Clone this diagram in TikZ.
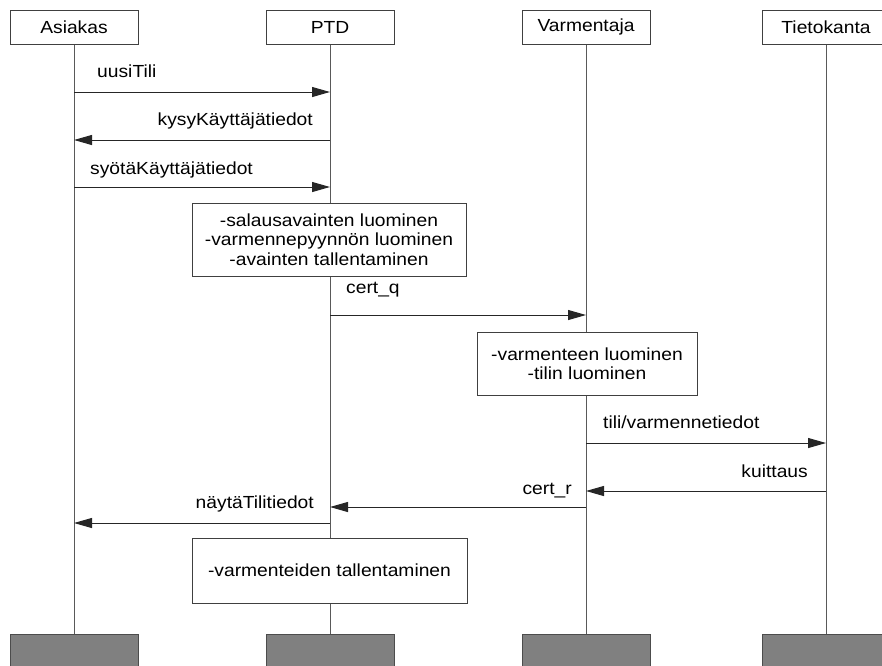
\documentclass[tikz,border=0pt]{standalone}
\usepackage{fontspec}
\setmainfont{Liberation Sans}[FakeStretch=1.1]
\usetikzlibrary{arrows.meta}
\begin{document}
\begin{tikzpicture}[x=1pt,y=-1pt,
  every node/.style={font=\fontsize{17.5}{19.5}\selectfont, inner sep=0pt},
  actor/.style={draw=black!75, fill=white, line width=1pt, minimum width=128pt, minimum height=34pt},
  endbox/.style={draw=black!70, fill=black!50, line width=1pt, minimum width=128pt, minimum height=40pt},
  lifeline/.style={draw=black!65, line width=1pt},
  msg/.style={draw=black!85, line width=1pt, -{Triangle[length=18pt,width=10pt]}},
  note/.style={draw=black!75, fill=white, line width=1pt, align=center},
  lbl/.style={anchor=base west},
  lblr/.style={anchor=base east}]
\useasboundingbox (0,0) rectangle (882,665);
\fill[white] (0,0) rectangle (882,665);

% participants
\node[actor] (A) at (74,27) {Asiakas};
\node[actor] (P) at (330,27) {PTD};
\node[actor] (V) at (586,27) {Varmentaja};
\node[actor] (T) at (826,27) {Tietokanta};

% end markers
\node[endbox, anchor=north] (Ae) at (74,634) {};
\node[endbox, anchor=north] (Pe) at (330,634) {};
\node[endbox, anchor=north] (Ve) at (586,634) {};
\node[endbox, anchor=north] (Te) at (826,634) {};

% lifelines
\draw[lifeline] (A.south) -- (Ae.north);
\draw[lifeline] (P.south) -- (Pe.north);
\draw[lifeline] (V.south) -- (Ve.north);
\draw[lifeline] (T.south) -- (Te.north);

% activity notes
\node[note, minimum width=274pt, minimum height=73pt] (n1) at (329,239.5)
  {-salausavainten luominen\\-varmennepyynnön luominen\\-avainten tallentaminen};
\node[note, minimum width=220pt, minimum height=63pt] (n2) at (587,363.5)
  {-varmenteen luominen\\-tilin luominen};
\node[note, minimum width=275pt, minimum height=65pt] (n3) at (329.5,570.5)
  {-varmenteiden tallentaminen};

% messages
\draw[msg] (A |- 0,92) -- (P |- 0,92);
\node[lbl] (m1) at (97,77) {uusiTili};

\draw[msg] (P |- 0,140) -- (A |- 0,140);
\node[lblr] (m2) at (313,125) {kysyKäyttäjätiedot};

\draw[msg] (A |- 0,187) -- (P |- 0,187);
\node[lbl] (m3) at (90,174) {syötäKäyttäjätiedot};

\draw[msg] (P |- 0,315) -- (V |- 0,315);
\node[lbl] (m4) at (346,293) {cert\_q};

\draw[msg] (V |- 0,443) -- (T |- 0,443);
\node[lbl] (m5) at (603,428) {tili/varmennetiedot};

\draw[msg] (T |- 0,491) -- (V |- 0,491);
\node[lblr] (m6) at (808,477) {kuittaus};

\draw[msg] (V |- 0,507) -- (P |- 0,507);
\node[lblr] (m7) at (572,494) {cert\_r};

\draw[msg] (P |- 0,523) -- (A |- 0,523);
\node[lblr] (m8) at (314,508) {näytäTilitiedot};
\end{tikzpicture}
\end{document}
